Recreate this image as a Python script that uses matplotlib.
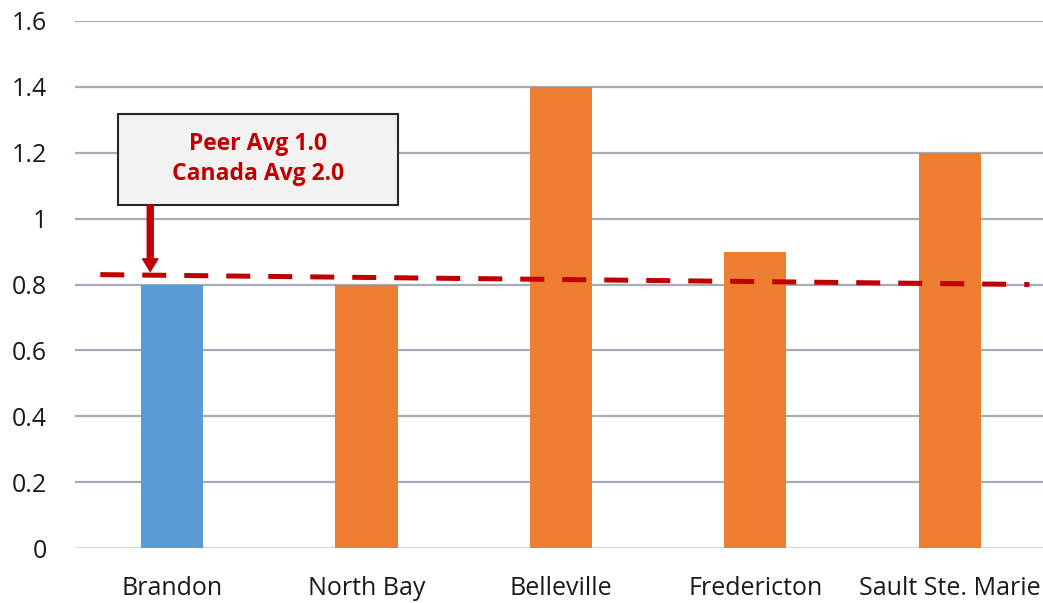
import numpy as np
import matplotlib.pyplot as plt
from matplotlib.patches import Rectangle

# Data
cities = ['Brandon', 'North Bay', 'Belleville', 'Fredericton', 'Sault Ste. Marie']
values = [0.8, 0.8, 1.4, 0.9, 1.2]
bar_colors = ['#5b9bd5', '#ed7d31', '#ed7d31', '#ed7d31', '#ed7d31']
avg_x = [-0.37, 4.41]
avg_y = [0.83, 0.80]
y_ticks = [0, 0.2, 0.4, 0.6, 0.8, 1.0, 1.2, 1.4, 1.6]
y_tick_labels = ['0', '0.2', '0.4', '0.6', '0.8', '1', '1.2', '1.4', '1.6']
note_lines = ['Peer Avg 1.0', 'Canada Avg 2.0']

plt.rcParams['font.family'] = ['Open Sans', 'DejaVu Sans']

fig = plt.figure(figsize=(10.43, 6.03), dpi=100)
ax = fig.add_axes([75 / 1043, 1 - 548 / 603, 968 / 1043, 527 / 603])

x = np.arange(len(cities))
ax.bar(x, values, width=0.32, color=bar_colors, zorder=2)

# Gridlines
for t in y_ticks[1:]:
    ax.axhline(t, color='#a5acb8', lw=1.6, zorder=1)
ax.axhline(0, color='#d9d9d9', lw=1.6, zorder=1)

# Average line
ax.plot(avg_x, avg_y, color='#c00000', lw=3.6, linestyle=(0, (4.8, 3.6)),
        dash_capstyle='butt', zorder=3)

ax.set_xlim(-0.5, 4.48)
ax.set_ylim(0, 1.6)
ax.set_yticks(y_ticks)
ax.set_yticklabels(y_tick_labels)
ax.set_xticks(x)
ax.set_xticklabels(cities)
ax.tick_params(axis='y', length=0, pad=20, labelsize=18, labelcolor='#1a1a1a')
ax.tick_params(axis='x', length=0, pad=20, labelsize=18, labelcolor='#1a1a1a')
for s in ax.spines.values():
    s.set_visible(False)

# Annotation box
box = Rectangle((-0.278, 1.041), 1.44, 0.277, facecolor='#f2f2f2',
                edgecolor='#262626', lw=1.5, zorder=4)
ax.add_patch(box)
ax.text(0.442, 1.18, '\n'.join(note_lines), ha='center', va='center',
        fontsize=16.5, fontweight='bold', color='#c00000', linespacing=1.35, zorder=5)
ax.annotate('', xy=(-0.113, 0.84), xytext=(-0.113, 1.041),
            arrowprops=dict(facecolor='#c00000', edgecolor='#c00000',
                            width=4.3, headwidth=11, headlength=9, shrink=0),
            zorder=4)

fig.savefig('out.png', dpi=100)
